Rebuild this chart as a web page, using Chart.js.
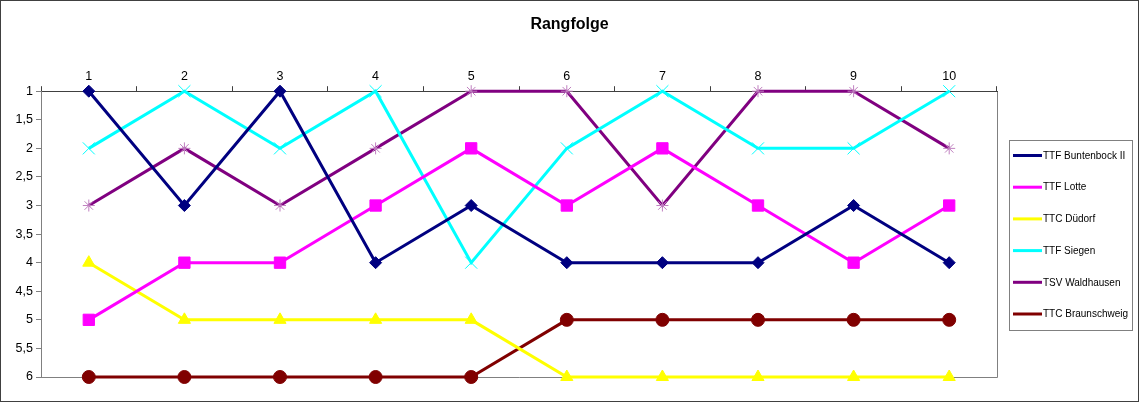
<!DOCTYPE html>
<html>
<head>
<meta charset="utf-8">
<script src="https://cdn.jsdelivr.net/npm/chart.js@4.4.0/dist/chart.umd.min.js"></script>
<style>
  body { margin: 0; background: #fff; }
  #wrap { width: 1139px; height: 402px; }
</style>
</head>
<body>
<div id="wrap"><canvas id="chartRang"></canvas></div>
<script>
// Spieltage und Platzierungen
const spieltage = ['1', '2', '3', '4', '5', '6', '7', '8', '9', '10'];
const buntenbock = [1, 3, 1, 4, 3, 4, 4, 4, 3, 4];
const lotte = [5, 4, 4, 3, 2, 3, 2, 3, 4, 3];
const duedorf = [4, 5, 5, 5, 5, 6, 6, 6, 6, 6];
const siegen = [2, 1, 2, 1, 4, 2, 1, 2, 2, 1];
const waldhausen = [3, 2, 3, 2, 1, 1, 3, 1, 1, 2];
const braunschweig = [6, 6, 6, 6, 6, 5, 5, 5, 5, 5];
const yTicks = [1, 1.5, 2, 2.5, 3, 3.5, 4, 4.5, 5, 5.5, 6];

const FONT = 'Arial, "Liberation Sans", sans-serif';

function serie(label, data, color, style, radius, markColor) {
  return {
    label: label,
    data: data,
    borderColor: color,
    backgroundColor: markColor || color,
    pointBorderColor: markColor || color,
    pointBackgroundColor: markColor || color,
    pointStyle: style,
    pointRadius: radius,
    pointHoverRadius: radius,
    pointBorderWidth: 1,
    borderWidth: 3,
    tension: 0,
    clip: false
  };
}

// Rahmen, Plotfläche und Legende im Excel-Stil
const excelFrame = {
  id: 'excelFrame',
  beforeDraw(chart) {
    const ctx = chart.ctx;
    ctx.save();
    ctx.fillStyle = '#fff';
    ctx.fillRect(0, 0, chart.width, chart.height);
    const a = chart.chartArea;
    ctx.strokeStyle = '#808080';
    ctx.lineWidth = 1;
    ctx.beginPath();
    ctx.moveTo(a.right + 0.5, a.top);
    ctx.lineTo(a.right + 0.5, a.bottom + 0.5);
    ctx.lineTo(a.left, a.bottom + 0.5);
    ctx.stroke();
    ctx.restore();
  },
  afterDraw(chart) {
    const ctx = chart.ctx;
    ctx.save();
    // äußerer Rahmen
    ctx.strokeStyle = '#404040';
    ctx.lineWidth = 1;
    ctx.strokeRect(0.5, 0.5, chart.width - 1, chart.height - 1);

    // Legende
    const lx = 1009, ly = 140, lw = 123, lh = 190;
    ctx.strokeStyle = '#808080';
    ctx.strokeRect(lx + 0.5, ly + 0.5, lw, lh);
    ctx.font = '10px ' + FONT;
    ctx.textBaseline = 'middle';
    chart.data.datasets.forEach((ds, i) => {
      const y = ly + 15.5 + i * 31.7;
      ctx.strokeStyle = ds.borderColor;
      ctx.lineWidth = 3;
      ctx.beginPath();
      ctx.moveTo(lx + 4, y);
      ctx.lineTo(lx + 33, y);
      ctx.stroke();
      ctx.fillStyle = ds.pointBackgroundColor;
      ctx.strokeStyle = ds.pointBorderColor;
      ctx.lineWidth = 1;
      Chart.helpers.drawPoint(ctx, {
        pointStyle: ds.pointStyle,
        rotation: 0,
        borderWidth: 1
      }, lx + 18.5, y, 3.5);
      ctx.fillStyle = '#000';
      ctx.fillText(ds.label, lx + 34, y + 0.5);
    });
    ctx.restore();
  }
};

const chart1 = document.getElementById('chartRang').getContext('2d');
const chartRang = new Chart(chart1, {
  type: 'line',
  data: {
    labels: spieltage,
    datasets: [
      serie('TTF Buntenbock II', buntenbock, '#000080', 'rectRot', 6),
      serie('TTF Lotte', lotte, '#FF00FF', 'rect', 8),
      serie('TTC Düdorf', duedorf, '#FFFF00', 'triangle', 7),
      serie('TTF Siegen', siegen, '#00FFFF', 'crossRot', 8.5),
      serie('TSV Waldhausen', waldhausen, '#800080', 'star', 6, '#C080C0'),
      serie('TTC Braunschweig', braunschweig, '#800000', 'circle', 6.5)
    ]
  },
  options: {
    responsive: true,
    maintainAspectRatio: false,
    animation: false,
    layout: {
      padding: { left: 0, right: 0, top: 0, bottom: 25 }
    },
    plugins: {
      legend: { display: false },
      tooltip: { enabled: false },
      title: {
        display: true,
        text: 'Rangfolge',
        color: '#000',
        font: { family: FONT, size: 16, weight: 'bold' },
        padding: { top: 15, bottom: 9 }
      }
    },
    scales: {
      x: {
        type: 'category',
        position: 'top',
        offset: true,
        afterFit(axis) { axis.height = 48; },
        grid: {
          offset: true,
          drawOnChartArea: false,
          drawTicks: true,
          tickLength: 5,
          color: '#404040'
        },
        border: { color: '#404040', width: 1 },
        ticks: {
          color: '#000',
          padding: 2,
          font: { family: FONT, size: 12.5 }
        }
      },
      y: {
        reverse: true,
        min: 1,
        max: 6,
        afterFit(axis) { axis.width = 41; },
        afterBuildTicks(axis) {
          axis.ticks = yTicks.map(v => ({ value: v }));
        },
        grid: {
          drawOnChartArea: false,
          drawTicks: true,
          tickLength: 5,
          color: '#808080'
        },
        border: { color: '#808080', width: 1 },
        ticks: {
          color: '#000',
          padding: 3,
          font: { family: FONT, size: 12.5 },
          callback: v => String(v).replace('.', ',')
        }
      },
      // Platzhalter rechts für die Legende
      rechts: {
        type: 'linear',
        position: 'right',
        display: true,
        afterFit(axis) { axis.width = 142; },
        grid: { display: false },
        border: { display: false },
        ticks: { display: false }
      }
    }
  },
  plugins: [excelFrame]
});
</script>
</body>
</html>
